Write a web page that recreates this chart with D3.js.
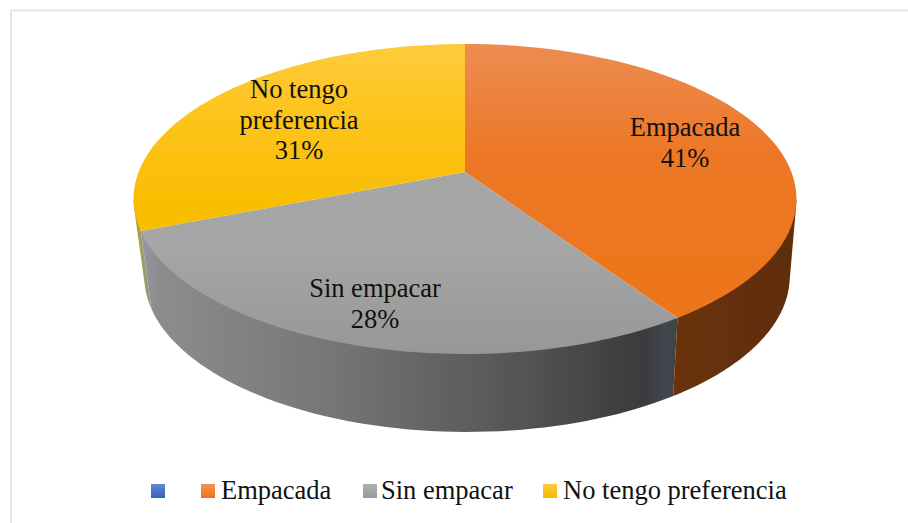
<!DOCTYPE html>
<html><head><meta charset="utf-8">
<script src="https://cdn.jsdelivr.net/npm/d3@7"></script>
<style>html,body{margin:0;background:#fff}svg{display:block}text{font-family:"Liberation Serif",serif;fill:#111}</style>
</head><body><div id="c"></div>
<script>
const categories = ["", "Empacada", "Sin empacar", "No tengo preferencia"];
const values = [0, 40.6, 28.4, 31];
const labelLines = [[], ["Empacada", "41%"], ["Sin empacar", "28%"], ["No tengo", "preferencia", "31%"]];
const legendColors = ["#4472c4", "#ed7d31", "#a5a5a5", "#ffc000"];

const W = 908, H = 523;
const svg = d3.select("#c").append("svg").attr("width", W).attr("height", H);
svg.append("path").attr("d", "M11,523V10.5H908").attr("fill", "none")
  .attr("stroke", "#e3e6ef").attr("stroke-width", 2);

const defs = svg.append("defs");
function lin(id, x1, y1, x2, y2, stops) {
  const g = defs.append("linearGradient").attr("id", id).attr("gradientUnits", "userSpaceOnUse")
    .attr("x1", x1).attr("y1", y1).attr("x2", x2).attr("y2", y2);
  stops.forEach(s => g.append("stop").attr("offset", s[0]).attr("stop-color", s[1]));
}
lin("f1", 0, 44, 0, 354, [[0, "#ed8c52"], [.35, "#ec7826"], [1, "#ed7419"]]);
lin("f2", 0, 44, 0, 354, [[0, "#a6a6a6"], [.65, "#a6a6a6"], [1, "#979797"]]);
lin("f3", 0, 44, 0, 354, [[0, "#fecb3c"], [.25, "#fdc31a"], [.5, "#f9be04"], [1, "#f2ba00"]]);
lin("s1", 670, 0, 790, 0, [[0, "#6a3208"], [1, "#5f2d08"]]);
lin("s2", 140, 0, 680, 0, [[0, "#9a98a8"], [.03, "#8d8d8d"], [.35, "#767676"], [.7, "#555555"], [.93, "#3b3b3b"], [.97, "#3f4650"], [1, "#44423f"]]);
lin("s3", 133, 0, 147, 0, [[0, "#a8a63c"], [1, "#9a9a70"]]);
lin("lg0", 0, 484, 0, 498, [[0, "#6188d2"], [1, "#3062bc"]]);
lin("lg1", 0, 484, 0, 498, [[0, "#f49158"], [1, "#f0711c"]]);
lin("lg2", 0, 484, 0, 498, [[0, "#b0b0b0"], [1, "#9a9a9a"]]);
lin("lg3", 0, 484, 0, 498, [[0, "#ffc93c"], [1, "#f5bb00"]]);
const soft = defs.append("filter").attr("id", "soft");
soft.append("feGaussianBlur").attr("stdDeviation", 0.7);

// perspective disc: maps a d3.pie angle and a radius fraction to the page
const topDisc = { cx: 465, y0: 172, rx: 326.4, ry: 150.3, k: 0.174 };
const botDisc = { cx: 467, y0: 250, rx: 318, ry: 151, k: 0.17 };
function project(d, a, r = 1) {
  const u = Math.sin(a) * r, v = -Math.cos(a) * r, w = 1 - d.k * v;
  return [d.cx + d.rx * u / w, d.y0 + d.ry * v / w];
}
const pie = d3.pie().sort(null).value(d => d)(values);
const line = d3.line();
const samples = (a0, a1) => d3.range(0, 61).map(i => a0 + (a1 - a0) * i / 60);
const g = svg.append("g").attr("filter", "url(#soft)");

// rim: hull of the two arcs of each slice, painted under the top face
const visibleStart = Math.PI * 100 / 180, visibleEnd = Math.PI * 260 / 180;
[3, 2, 1].forEach(i => {
  const a0 = Math.max(pie[i].startAngle, visibleStart), a1 = Math.min(pie[i].endAngle, visibleEnd);
  if (a1 <= a0) return;
  const as = samples(a0, a1);
  const hull = d3.polygonHull(as.map(a => project(topDisc, a)).concat(as.map(a => project(botDisc, a))));
  g.append("path").attr("d", line(hull) + "Z").attr("fill", `url(#s${i})`);
});
// top face
[1, 2, 3].forEach(i => {
  const pts = [[topDisc.cx, topDisc.y0]].concat(samples(pie[i].startAngle, pie[i].endAngle).map(a => project(topDisc, a)));
  g.append("path").attr("d", line(pts) + "Z").attr("fill", `url(#f${i})`);
});

// data labels
const lx = d3.scaleOrdinal().domain([1, 2, 3]).range([685, 375, 299]);
const ly = d3.scaleOrdinal().domain([1, 2, 3]).range([136, 297, 98]);
[1, 2, 3].forEach(i => {
  const t = svg.append("text").attr("text-anchor", "middle").style("font-size", "26.5px");
  labelLines[i].forEach((s, j) => t.append("tspan").attr("x", lx(i)).attr("y", ly(i) + j * 30.5).text(s));
});

// legend
const legendX = [151, 201, 363, 543], legendLabelX = [null, 221, 381, 563];
categories.forEach((c, i) => {
  svg.append("rect").attr("x", legendX[i]).attr("y", 484).attr("width", 14).attr("height", 14)
    .attr("fill", `url(#lg${i})`);
  if (c) svg.append("text").attr("x", legendLabelX[i]).attr("y", 499).style("font-size", "26.5px").text(c);
});
</script></body></html>
